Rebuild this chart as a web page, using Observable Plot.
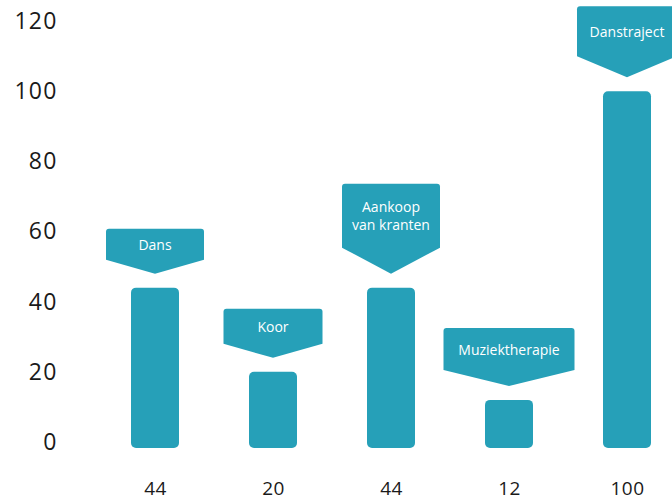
<!DOCTYPE html>
<html><head><meta charset="utf-8">
<script src="https://cdn.jsdelivr.net/npm/d3@7"></script>
<script src="https://cdn.jsdelivr.net/npm/@observablehq/plot@0.6"></script>
<style>body{margin:0;background:#fff;}</style>
</head><body><div id="chart"></div>
<script>
// Data
const categories = ["Dans", "Koor", "Aankoop van kranten", "Muziektherapie", "Danstraject"];
const values = [44, 20, 44, 12, 100];
const bannerLines = [["Dans"], ["Koor"], ["Aankoop", "van kranten"], ["Muziektherapie"], ["Danstraject"]];
const yTicks = [0, 20, 40, 60, 80, 100, 120];

const data = categories.map((c, i) => ({category: c, value: values[i], lines: bannerLines[i]}));

// Styling of the callout banners (px)
const teal = "#26a0b8";
const bodyH = [31, 35, 64, 42, 50];
const tipH = [14, 14, 26, 16, 21];
const bodyW = [98, 99, 98, 131, 100];
const gap = 14;

function banners(index, scales) {
  const g = d3.create("svg:g").attr("aria-label", "banners");
  const bw = scales.x.bandwidth ? scales.x.bandwidth() : 0;
  data.forEach((d, i) => {
    const cx = scales.x(d.category) + bw / 2;
    const tip = scales.y(d.value) - gap;
    const sideY = tip - tipH[i];
    const top = sideY - bodyH[i];
    const l = cx - bodyW[i] / 2, r = cx + bodyW[i] / 2, rr = 3;
    const p = `M${l},${top + rr}Q${l},${top} ${l + rr},${top}L${r - rr},${top}Q${r},${top} ${r},${top + rr}L${r},${sideY}L${cx},${tip}L${l},${sideY}Z`;
    g.append("path").attr("d", p).attr("fill", teal);
    const cy = top + bodyH[i] / 2 + 2;
    const n = d.lines.length, lh = 18;
    d.lines.forEach((t, k) => {
      g.append("text")
        .attr("x", cx)
        .attr("y", cy + (k - (n - 1) / 2) * lh)
        .attr("text-anchor", "middle")
        .attr("dominant-baseline", "middle")
        .attr("fill", "white")
        .style("font-family", "'Open Sans', sans-serif")
        .style("font-size", "14px")
        .text(t);
    });
  });
  return g.node();
}

const chart = Plot.plot({
  width: 672,
  height: 500,
  marginTop: 21,
  marginBottom: 58,
  marginLeft: 110,
  marginRight: 0,
  style: {fontFamily: "'Open Sans', sans-serif", color: "#1a1a1a", background: "white", overflow: "visible"},
  x: {
    domain: categories,
    paddingInner: 0.59,
    paddingOuter: 0.175,
    tickSize: 0,
    tickPadding: 39,
    tickFormat: c => String(values[categories.indexOf(c)]),
    label: null
  },
  y: {
    domain: [0, 120],
    ticks: yTicks,
    tickSize: 0,
    tickPadding: 53,
    label: null
  },
  marks: [
    Plot.barY(data, {x: "category", y: "value", fill: teal, rx: 5, insetBottom: -6}),
    banners
  ]
});

document.getElementById("chart").appendChild(chart);
const svg = d3.select(chart);
svg.selectAll('g[aria-label^="y-axis"] text').style("font-size", "23px").style("letter-spacing", "1.2px").attr("fill", "#1a1a1a");
svg.selectAll('g[aria-label^="x-axis"] text').style("font-size", "19px").style("letter-spacing", "0.5px").attr("fill", "#1a1a1a");
</script>
</body></html>
